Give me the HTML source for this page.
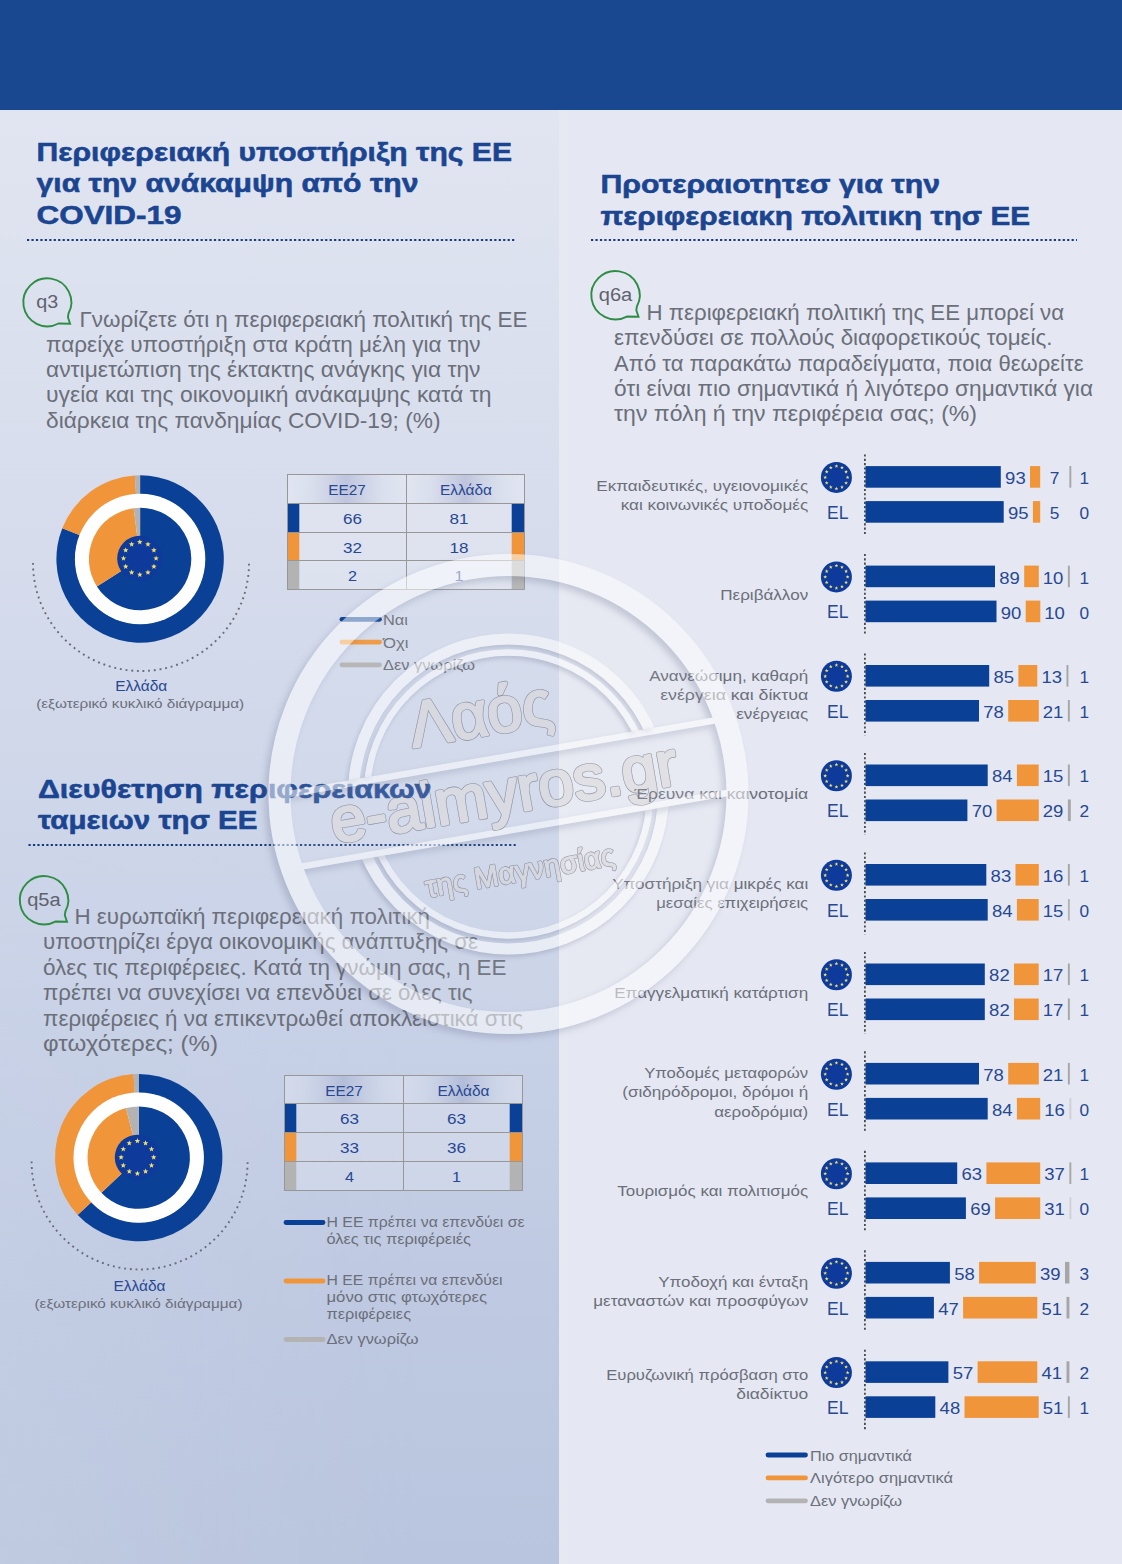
<!DOCTYPE html>
<html lang="el"><head><meta charset="utf-8"><title>EU regional policy - Greece</title>
<style>
html,body{margin:0;padding:0}
body{width:1122px;height:1564px;position:relative;overflow:hidden;background:#e5e8f2;font-family:"Liberation Sans", sans-serif}
#hdr{position:absolute;left:0;top:0;width:1122px;height:110px;background:#1a4890}
#left{position:absolute;left:0;top:110px;width:559px;height:1454px;background:linear-gradient(180deg,#e1e5f1 0%,#d6dcec 30%,#cbd4e8 55%,#bfcae2 80%,#b9c5de 100%)}
#lh{position:absolute;left:0;top:0;width:100%;height:100%;background:linear-gradient(90deg,rgba(255,255,255,0.10),rgba(255,255,255,0) 75%);-webkit-mask-image:linear-gradient(180deg,transparent 45%,#000 100%);mask-image:linear-gradient(180deg,transparent 45%,#000 100%)}
#edge{position:absolute;left:559px;top:110px;width:9px;height:1454px;background:rgba(255,255,255,0.06)}
</style></head><body>
<div id="left"><div id="lh"></div></div><div id="edge"></div><div id="hdr"></div>
<svg width="1122" height="1564" viewBox="0 0 1122 1564" style="position:absolute;left:0;top:0;pointer-events:none" font-family='"Liberation Sans", sans-serif'>
<g transform="rotate(-9.8 508.5 794)" opacity="0.62">
<text x="422.5" y="732" font-size="64" textLength="144" lengthAdjust="spacingAndGlyphs" stroke-linejoin="round" fill="#dad7d9" stroke="#dad7d9" stroke-width="2.6">Λαός</text>
<text x="328.5" y="813" font-size="63" textLength="351" lengthAdjust="spacingAndGlyphs" stroke-linejoin="round" fill="#dad7d9" stroke="#dad7d9" stroke-width="2.8">e-almyros.gr</text>
<text x="410.5" y="882" font-size="30" textLength="192" lengthAdjust="spacingAndGlyphs" stroke-linejoin="round" fill="#dad7d9" stroke="#dad7d9" stroke-width="1.2">της Μαγνησίας</text>
</g></svg>
<svg width="1122" height="1564" viewBox="0 0 1122 1564" style="position:absolute;left:0;top:0" font-family='"Liberation Sans", sans-serif'>
<text x="36.5" y="160.5" font-size="26.2" fill="#1b4591" font-weight="bold" text-anchor="start" textLength="475.5" lengthAdjust="spacingAndGlyphs" stroke="#1b4591" stroke-width="0.55">Περιφερειακή υποστήριξη της ΕΕ</text>
<text x="36.5" y="192.3" font-size="26.2" fill="#1b4591" font-weight="bold" text-anchor="start" textLength="382.0" lengthAdjust="spacingAndGlyphs" stroke="#1b4591" stroke-width="0.55">για την ανάκαμψη από την</text>
<text x="36.5" y="224.3" font-size="26.2" fill="#1b4591" font-weight="bold" text-anchor="start" textLength="145.0" lengthAdjust="spacingAndGlyphs" stroke="#1b4591" stroke-width="0.55">COVID-19</text>
<line x1="27" y1="240" x2="514.5" y2="240" stroke="#173a7a" stroke-width="2" stroke-dasharray="2.2 2.25"/>
<text x="600.5" y="193.3" font-size="26.2" fill="#1b4591" font-weight="bold" text-anchor="start" textLength="339.5" lengthAdjust="spacingAndGlyphs" stroke="#1b4591" stroke-width="0.55">Προτεραιοτητεσ για την</text>
<text x="600.5" y="224.7" font-size="26.2" fill="#1b4591" font-weight="bold" text-anchor="start" textLength="429.5" lengthAdjust="spacingAndGlyphs" stroke="#1b4591" stroke-width="0.55">περιφερειακη πολιτικη τησ ΕΕ</text>
<line x1="591" y1="240" x2="1077" y2="240" stroke="#173a7a" stroke-width="2" stroke-dasharray="2.2 2.25"/>
<text x="38.0" y="798.0" font-size="26.2" fill="#1b4591" font-weight="bold" text-anchor="start" textLength="393.5" lengthAdjust="spacingAndGlyphs" stroke="#1b4591" stroke-width="0.55">Διευθετηση περιφερειακων</text>
<text x="38.0" y="829.3" font-size="26.2" fill="#1b4591" font-weight="bold" text-anchor="start" textLength="219.5" lengthAdjust="spacingAndGlyphs" stroke="#1b4591" stroke-width="0.55">ταμειων τησ ΕΕ</text>
<line x1="28.5" y1="845" x2="517" y2="845" stroke="#173a7a" stroke-width="2" stroke-dasharray="2.2 2.25"/>
<path d="M68.49,313.57 A24,24 0 1 0 58.57,323.49 L70.10,323.70 L67.94,317.18 Z" fill="none" stroke="#2e8d45" stroke-width="1.9" stroke-linejoin="miter"/>
<text x="36.3" y="307.6" font-size="18" fill="#5f636e" font-weight="normal" text-anchor="start" textLength="22.0" lengthAdjust="spacingAndGlyphs">q3</text>
<path d="M636.87,306.56 A24.2,24.2 0 1 0 626.86,316.57 L638.50,316.80 L636.31,310.20 Z" fill="none" stroke="#2e8d45" stroke-width="1.9" stroke-linejoin="miter"/>
<text x="598.8" y="300.5" font-size="18" fill="#5f636e" font-weight="normal" text-anchor="start" textLength="33.5" lengthAdjust="spacingAndGlyphs">q6a</text>
<path d="M65.37,911.56 A24.2,24.2 0 1 0 55.36,921.57 L67.00,921.80 L64.81,915.20 Z" fill="none" stroke="#2e8d45" stroke-width="1.9" stroke-linejoin="miter"/>
<text x="27.2" y="905.5" font-size="18" fill="#5f636e" font-weight="normal" text-anchor="start" textLength="33.5" lengthAdjust="spacingAndGlyphs">q5a</text>
<text x="79.5" y="326.7" font-size="22.3" fill="#6b6f7a" font-weight="normal" text-anchor="start" textLength="448.0" lengthAdjust="spacingAndGlyphs">Γνωρίζετε ότι η περιφερειακή πολιτική της ΕΕ</text>
<text x="46.0" y="351.9" font-size="22.3" fill="#6b6f7a" font-weight="normal" text-anchor="start" textLength="434.5" lengthAdjust="spacingAndGlyphs">παρείχε υποστήριξη στα κράτη μέλη για την</text>
<text x="46.0" y="377.1" font-size="22.3" fill="#6b6f7a" font-weight="normal" text-anchor="start" textLength="434.5" lengthAdjust="spacingAndGlyphs">αντιμετώπιση της έκτακτης ανάγκης για την</text>
<text x="46.0" y="402.3" font-size="22.3" fill="#6b6f7a" font-weight="normal" text-anchor="start" textLength="445.5" lengthAdjust="spacingAndGlyphs">υγεία και της οικονομική ανάκαμψης κατά τη</text>
<text x="46.0" y="427.5" font-size="22.3" fill="#6b6f7a" font-weight="normal" text-anchor="start" textLength="394.5" lengthAdjust="spacingAndGlyphs">διάρκεια της πανδημίας COVID-19; (%)</text>
<text x="646.5" y="320.0" font-size="22.3" fill="#6b6f7a" font-weight="normal" text-anchor="start" textLength="417.5" lengthAdjust="spacingAndGlyphs">Η περιφερειακή πολιτική της ΕΕ μπορεί να</text>
<text x="614.0" y="345.3" font-size="22.3" fill="#6b6f7a" font-weight="normal" text-anchor="start" textLength="438.5" lengthAdjust="spacingAndGlyphs">επενδύσει σε πολλούς διαφορετικούς τομείς.</text>
<text x="614.0" y="370.6" font-size="22.3" fill="#6b6f7a" font-weight="normal" text-anchor="start" textLength="469.5" lengthAdjust="spacingAndGlyphs">Από τα παρακάτω παραδείγματα, ποια θεωρείτε</text>
<text x="614.0" y="395.9" font-size="22.3" fill="#6b6f7a" font-weight="normal" text-anchor="start" textLength="479.0" lengthAdjust="spacingAndGlyphs">ότι είναι πιο σημαντικά ή λιγότερο σημαντικά για</text>
<text x="614.0" y="421.2" font-size="22.3" fill="#6b6f7a" font-weight="normal" text-anchor="start" textLength="363.0" lengthAdjust="spacingAndGlyphs">την πόλη ή την περιφέρεια σας; (%)</text>
<text x="74.5" y="923.7" font-size="22.3" fill="#6b6f7a" font-weight="normal" text-anchor="start" textLength="355.5" lengthAdjust="spacingAndGlyphs">Η ευρωπαϊκή περιφερειακή πολιτική</text>
<text x="43.0" y="949.2" font-size="22.3" fill="#6b6f7a" font-weight="normal" text-anchor="start" textLength="435.0" lengthAdjust="spacingAndGlyphs">υποστηρίζει έργα οικονομικής ανάπτυξης σε</text>
<text x="43.0" y="974.7" font-size="22.3" fill="#6b6f7a" font-weight="normal" text-anchor="start" textLength="463.5" lengthAdjust="spacingAndGlyphs">όλες τις περιφέρειες. Κατά τη γνώμη σας, η ΕΕ</text>
<text x="43.0" y="1000.2" font-size="22.3" fill="#6b6f7a" font-weight="normal" text-anchor="start" textLength="429.5" lengthAdjust="spacingAndGlyphs">πρέπει να συνεχίσει να επενδύει σε όλες τις</text>
<text x="43.0" y="1025.7" font-size="22.3" fill="#6b6f7a" font-weight="normal" text-anchor="start" textLength="480.0" lengthAdjust="spacingAndGlyphs">περιφέρειες ή να επικεντρωθεί αποκλειστικά στις</text>
<text x="43.0" y="1051.2" font-size="22.3" fill="#6b6f7a" font-weight="normal" text-anchor="start" textLength="175.0" lengthAdjust="spacingAndGlyphs">φτωχότερες; (%)</text>
<path d="M140.10,475.30 A83.7,83.7 0 1 1 62.28,528.19 L79.94,535.18 A64.7,64.7 0 1 0 140.10,494.30 Z" fill="#0a4196"/>
<path d="M62.28,528.19 A83.7,83.7 0 0 1 134.84,475.47 L136.04,494.43 A64.7,64.7 0 0 0 79.94,535.18 Z" fill="#f0953a"/>
<path d="M134.84,475.47 A83.7,83.7 0 0 1 140.10,475.30 L140.10,494.30 A64.7,64.7 0 0 0 136.04,494.43 Z" fill="#b3b3b3"/>
<circle cx="140.1" cy="559" r="65.2" fill="#ffffff"/>
<path d="M140.10,559.00 L140.10,507.80 A51.2,51.2 0 1 1 96.87,586.43 Z" fill="#0a4196"/>
<path d="M140.10,559.00 L96.87,586.43 A51.2,51.2 0 0 1 133.68,508.20 Z" fill="#f0953a"/>
<path d="M140.10,559.00 L133.68,508.20 A51.2,51.2 0 0 1 140.10,507.80 Z" fill="#b3b3b3"/>
<circle cx="139.8" cy="558.4" r="22.6" fill="#0d3a9b"/>
<polygon points="139.80,539.20 140.52,541.11 142.56,541.20 140.96,542.48 141.50,544.45 139.80,543.32 138.10,544.45 138.64,542.48 137.04,541.20 139.08,541.11" fill="#f3e06a"/>
<polygon points="147.95,541.38 148.67,543.30 150.71,543.39 149.11,544.66 149.65,546.63 147.95,545.50 146.25,546.63 146.79,544.66 145.19,543.39 147.23,543.30" fill="#f3e06a"/>
<polygon points="153.92,547.35 154.63,549.26 156.67,549.35 155.07,550.63 155.62,552.60 153.92,551.47 152.21,552.60 152.76,550.63 151.16,549.35 153.20,549.26" fill="#f3e06a"/>
<polygon points="156.10,555.50 156.82,557.41 158.86,557.50 157.26,558.78 157.80,560.75 156.10,559.62 154.40,560.75 154.94,558.78 153.34,557.50 155.38,557.41" fill="#f3e06a"/>
<polygon points="153.92,563.65 154.63,565.56 156.67,565.65 155.07,566.93 155.62,568.90 153.92,567.77 152.21,568.90 152.76,566.93 151.16,565.65 153.20,565.56" fill="#f3e06a"/>
<polygon points="147.95,569.62 148.67,571.53 150.71,571.62 149.11,572.89 149.65,574.86 147.95,573.73 146.25,574.86 146.79,572.89 145.19,571.62 147.23,571.53" fill="#f3e06a"/>
<polygon points="139.80,571.80 140.52,573.71 142.56,573.80 140.96,575.08 141.50,577.05 139.80,575.92 138.10,577.05 138.64,575.08 137.04,573.80 139.08,573.71" fill="#f3e06a"/>
<polygon points="131.65,569.62 132.37,571.53 134.41,571.62 132.81,572.89 133.35,574.86 131.65,573.73 129.95,574.86 130.49,572.89 128.89,571.62 130.93,571.53" fill="#f3e06a"/>
<polygon points="125.68,563.65 126.40,565.56 128.44,565.65 126.84,566.93 127.39,568.90 125.68,567.77 123.98,568.90 124.53,566.93 122.93,565.65 124.97,565.56" fill="#f3e06a"/>
<polygon points="123.50,555.50 124.22,557.41 126.26,557.50 124.66,558.78 125.20,560.75 123.50,559.62 121.80,560.75 122.34,558.78 120.74,557.50 122.78,557.41" fill="#f3e06a"/>
<polygon points="125.68,547.35 126.40,549.26 128.44,549.35 126.84,550.63 127.39,552.60 125.68,551.47 123.98,552.60 124.53,550.63 122.93,549.35 124.97,549.26" fill="#f3e06a"/>
<polygon points="131.65,541.38 132.37,543.30 134.41,543.39 132.81,544.66 133.35,546.63 131.65,545.50 129.95,546.63 130.49,544.66 128.89,543.39 130.93,543.30" fill="#f3e06a"/>
<path d="M33.0,563.0 A108,108 0 0 0 249.0,563.0" fill="none" stroke="#6a6d78" stroke-width="1.9" stroke-dasharray="1.9 3.8"/>
<path d="M138.70,1073.90 A83.7,83.7 0 1 1 77.69,1214.90 L91.54,1201.89 A64.7,64.7 0 1 0 138.70,1092.90 Z" fill="#0a4196"/>
<path d="M77.69,1214.90 A83.7,83.7 0 0 1 133.44,1074.07 L134.64,1093.03 A64.7,64.7 0 0 0 91.54,1201.89 Z" fill="#f0953a"/>
<path d="M133.44,1074.07 A83.7,83.7 0 0 1 138.70,1073.90 L138.70,1092.90 A64.7,64.7 0 0 0 134.64,1093.03 Z" fill="#b3b3b3"/>
<circle cx="138.7" cy="1157.6" r="65.2" fill="#ffffff"/>
<path d="M138.70,1157.60 L138.70,1106.40 A51.2,51.2 0 1 1 101.38,1192.65 Z" fill="#0a4196"/>
<path d="M138.70,1157.60 L101.38,1192.65 A51.2,51.2 0 0 1 125.97,1108.01 Z" fill="#f0953a"/>
<path d="M138.70,1157.60 L125.97,1108.01 A51.2,51.2 0 0 1 138.70,1106.40 Z" fill="#b3b3b3"/>
<circle cx="137.4" cy="1157.3" r="22.6" fill="#0d3a9b"/>
<polygon points="137.40,1138.10 138.12,1140.01 140.16,1140.10 138.56,1141.38 139.10,1143.35 137.40,1142.22 135.70,1143.35 136.24,1141.38 134.64,1140.10 136.68,1140.01" fill="#f3e06a"/>
<polygon points="145.55,1140.28 146.27,1142.20 148.31,1142.29 146.71,1143.56 147.25,1145.53 145.55,1144.40 143.85,1145.53 144.39,1143.56 142.79,1142.29 144.83,1142.20" fill="#f3e06a"/>
<polygon points="151.52,1146.25 152.23,1148.16 154.27,1148.25 152.67,1149.53 153.22,1151.50 151.52,1150.37 149.81,1151.50 150.36,1149.53 148.76,1148.25 150.80,1148.16" fill="#f3e06a"/>
<polygon points="153.70,1154.40 154.42,1156.31 156.46,1156.40 154.86,1157.68 155.40,1159.65 153.70,1158.52 152.00,1159.65 152.54,1157.68 150.94,1156.40 152.98,1156.31" fill="#f3e06a"/>
<polygon points="151.52,1162.55 152.23,1164.46 154.27,1164.55 152.67,1165.83 153.22,1167.80 151.52,1166.67 149.81,1167.80 150.36,1165.83 148.76,1164.55 150.80,1164.46" fill="#f3e06a"/>
<polygon points="145.55,1168.52 146.27,1170.43 148.31,1170.52 146.71,1171.79 147.25,1173.76 145.55,1172.63 143.85,1173.76 144.39,1171.79 142.79,1170.52 144.83,1170.43" fill="#f3e06a"/>
<polygon points="137.40,1170.70 138.12,1172.61 140.16,1172.70 138.56,1173.98 139.10,1175.95 137.40,1174.82 135.70,1175.95 136.24,1173.98 134.64,1172.70 136.68,1172.61" fill="#f3e06a"/>
<polygon points="129.25,1168.52 129.97,1170.43 132.01,1170.52 130.41,1171.79 130.95,1173.76 129.25,1172.63 127.55,1173.76 128.09,1171.79 126.49,1170.52 128.53,1170.43" fill="#f3e06a"/>
<polygon points="123.28,1162.55 124.00,1164.46 126.04,1164.55 124.44,1165.83 124.99,1167.80 123.28,1166.67 121.58,1167.80 122.13,1165.83 120.53,1164.55 122.57,1164.46" fill="#f3e06a"/>
<polygon points="121.10,1154.40 121.82,1156.31 123.86,1156.40 122.26,1157.68 122.80,1159.65 121.10,1158.52 119.40,1159.65 119.94,1157.68 118.34,1156.40 120.38,1156.31" fill="#f3e06a"/>
<polygon points="123.28,1146.25 124.00,1148.16 126.04,1148.25 124.44,1149.53 124.99,1151.50 123.28,1150.37 121.58,1151.50 122.13,1149.53 120.53,1148.25 122.57,1148.16" fill="#f3e06a"/>
<polygon points="129.25,1140.28 129.97,1142.20 132.01,1142.29 130.41,1143.56 130.95,1145.53 129.25,1144.40 127.55,1145.53 128.09,1143.56 126.49,1142.29 128.53,1142.20" fill="#f3e06a"/>
<path d="M31.6,1161.5 A108,108 0 0 0 247.6,1161.5" fill="none" stroke="#6a6d78" stroke-width="1.9" stroke-dasharray="1.9 3.8"/>
<text x="115.2" y="691.4" font-size="15.5" fill="#284893" font-weight="normal" text-anchor="start" textLength="52.0" lengthAdjust="spacingAndGlyphs">Ελλάδα</text>
<text x="36.2" y="708.4" font-size="13.6" fill="#6b6f7a" font-weight="normal" text-anchor="start" textLength="208.0" lengthAdjust="spacingAndGlyphs">(εξωτερικό κυκλικό διάγραμμα)</text>
<text x="113.5" y="1290.6" font-size="15.5" fill="#284893" font-weight="normal" text-anchor="start" textLength="52.0" lengthAdjust="spacingAndGlyphs">Ελλάδα</text>
<text x="34.5" y="1307.5" font-size="13.6" fill="#6b6f7a" font-weight="normal" text-anchor="start" textLength="208.0" lengthAdjust="spacingAndGlyphs">(εξωτερικό κυκλικό διάγραμμα)</text>
<defs><linearGradient id="hg287474" x1="0" x2="1"><stop offset="0" stop-color="#ffffff" stop-opacity="0.22"/><stop offset="0.2" stop-color="#dfe3ef" stop-opacity="0.3"/><stop offset="0.5" stop-color="#9aa3c6" stop-opacity="0.42"/><stop offset="0.8" stop-color="#dfe3ef" stop-opacity="0.3"/><stop offset="1" stop-color="#ffffff" stop-opacity="0.22"/></linearGradient></defs>
<rect x="287" y="503" width="237" height="86" fill="#ffffff" fill-opacity="0.2"/>
<rect x="287" y="474" width="119" height="29" fill="url(#hg287474)"/>
<rect x="406" y="474" width="118" height="29" fill="url(#hg287474)"/>
<rect x="287" y="503" width="12.3" height="29" fill="#0a4196"/>
<rect x="511.7" y="503" width="12.3" height="29" fill="#0a4196"/>
<rect x="287" y="532" width="12.3" height="28" fill="#f0953a"/>
<rect x="511.7" y="532" width="12.3" height="28" fill="#f0953a"/>
<rect x="287" y="560" width="12.3" height="29" fill="#b3b3b3"/>
<rect x="511.7" y="560" width="12.3" height="29" fill="#b3b3b3"/>
<rect x="287" y="474" width="238" height="1" fill="#979797"/>
<rect x="287" y="503" width="238" height="1" fill="#979797"/>
<rect x="287" y="532" width="238" height="1" fill="#979797"/>
<rect x="287" y="560" width="238" height="1" fill="#979797"/>
<rect x="287" y="589" width="238" height="1" fill="#979797"/>
<rect x="287" y="474" width="1" height="116" fill="#979797"/>
<rect x="406" y="474" width="1" height="116" fill="#979797"/>
<rect x="524" y="474" width="1" height="116" fill="#979797"/>
<text x="328.2" y="494.8" font-size="15.5" fill="#284893" font-weight="normal" text-anchor="start" textLength="37.5" lengthAdjust="spacingAndGlyphs">ΕΕ27</text>
<text x="440.0" y="494.8" font-size="15.5" fill="#284893" font-weight="normal" text-anchor="start" textLength="52.0" lengthAdjust="spacingAndGlyphs">Ελλάδα</text>
<text x="343.1" y="524.2" font-size="15.3" fill="#284893" font-weight="normal" text-anchor="start" textLength="19.0" lengthAdjust="spacingAndGlyphs">66</text>
<text x="449.4" y="524.2" font-size="15.3" fill="#284893" font-weight="normal" text-anchor="start" textLength="19.0" lengthAdjust="spacingAndGlyphs">81</text>
<text x="343.1" y="553.2" font-size="15.3" fill="#284893" font-weight="normal" text-anchor="start" textLength="19.0" lengthAdjust="spacingAndGlyphs">32</text>
<text x="449.4" y="553.2" font-size="15.3" fill="#284893" font-weight="normal" text-anchor="start" textLength="19.0" lengthAdjust="spacingAndGlyphs">18</text>
<text x="348.1" y="581.2" font-size="15.3" fill="#284893" font-weight="normal" text-anchor="start" textLength="9.0" lengthAdjust="spacingAndGlyphs">2</text>
<text x="454.4" y="581.2" font-size="15.3" fill="#284893" font-weight="normal" text-anchor="start" textLength="9.0" lengthAdjust="spacingAndGlyphs">1</text>
<defs><linearGradient id="hg2841075" x1="0" x2="1"><stop offset="0" stop-color="#ffffff" stop-opacity="0.22"/><stop offset="0.2" stop-color="#dfe3ef" stop-opacity="0.3"/><stop offset="0.5" stop-color="#9aa3c6" stop-opacity="0.42"/><stop offset="0.8" stop-color="#dfe3ef" stop-opacity="0.3"/><stop offset="1" stop-color="#ffffff" stop-opacity="0.22"/></linearGradient></defs>
<rect x="284" y="1103" width="238" height="87" fill="#ffffff" fill-opacity="0.2"/>
<rect x="284" y="1075" width="119" height="28" fill="url(#hg2841075)"/>
<rect x="403" y="1075" width="119" height="28" fill="url(#hg2841075)"/>
<rect x="284" y="1103" width="12.3" height="29" fill="#0a4196"/>
<rect x="509.7" y="1103" width="12.3" height="29" fill="#0a4196"/>
<rect x="284" y="1132" width="12.3" height="29" fill="#f0953a"/>
<rect x="509.7" y="1132" width="12.3" height="29" fill="#f0953a"/>
<rect x="284" y="1161" width="12.3" height="29" fill="#b3b3b3"/>
<rect x="509.7" y="1161" width="12.3" height="29" fill="#b3b3b3"/>
<rect x="284" y="1075" width="239" height="1" fill="#979797"/>
<rect x="284" y="1103" width="239" height="1" fill="#979797"/>
<rect x="284" y="1132" width="239" height="1" fill="#979797"/>
<rect x="284" y="1161" width="239" height="1" fill="#979797"/>
<rect x="284" y="1190" width="239" height="1" fill="#979797"/>
<rect x="284" y="1075" width="1" height="116" fill="#979797"/>
<rect x="403" y="1075" width="1" height="116" fill="#979797"/>
<rect x="522" y="1075" width="1" height="116" fill="#979797"/>
<text x="325.2" y="1095.8" font-size="15.5" fill="#284893" font-weight="normal" text-anchor="start" textLength="37.5" lengthAdjust="spacingAndGlyphs">ΕΕ27</text>
<text x="437.5" y="1095.8" font-size="15.5" fill="#284893" font-weight="normal" text-anchor="start" textLength="52.0" lengthAdjust="spacingAndGlyphs">Ελλάδα</text>
<text x="340.1" y="1124.2" font-size="15.3" fill="#284893" font-weight="normal" text-anchor="start" textLength="19.0" lengthAdjust="spacingAndGlyphs">63</text>
<text x="446.9" y="1124.2" font-size="15.3" fill="#284893" font-weight="normal" text-anchor="start" textLength="19.0" lengthAdjust="spacingAndGlyphs">63</text>
<text x="340.1" y="1153.2" font-size="15.3" fill="#284893" font-weight="normal" text-anchor="start" textLength="19.0" lengthAdjust="spacingAndGlyphs">33</text>
<text x="446.9" y="1153.2" font-size="15.3" fill="#284893" font-weight="normal" text-anchor="start" textLength="19.0" lengthAdjust="spacingAndGlyphs">36</text>
<text x="345.1" y="1182.2" font-size="15.3" fill="#284893" font-weight="normal" text-anchor="start" textLength="9.0" lengthAdjust="spacingAndGlyphs">4</text>
<text x="451.9" y="1182.2" font-size="15.3" fill="#284893" font-weight="normal" text-anchor="start" textLength="9.0" lengthAdjust="spacingAndGlyphs">1</text>
<line x1="342" y1="619.3" x2="379.5" y2="619.3" stroke="#0a4196" stroke-width="4.8" stroke-linecap="round"/>
<text x="383.0" y="624.7" font-size="15.5" fill="#6b6f7a" font-weight="normal" text-anchor="start" textLength="25.0" lengthAdjust="spacingAndGlyphs">Ναι</text>
<line x1="342" y1="642.0999999999999" x2="379.5" y2="642.0999999999999" stroke="#f0953a" stroke-width="4.8" stroke-linecap="round"/>
<text x="383.0" y="647.5" font-size="15.5" fill="#6b6f7a" font-weight="normal" text-anchor="start" textLength="25.5" lengthAdjust="spacingAndGlyphs">Όχι</text>
<line x1="342" y1="664.9" x2="379.5" y2="664.9" stroke="#b3b3b3" stroke-width="4.8" stroke-linecap="round"/>
<text x="383.0" y="670.3" font-size="15.5" fill="#6b6f7a" font-weight="normal" text-anchor="start" textLength="92.0" lengthAdjust="spacingAndGlyphs">Δεν γνωρίζω</text>
<line x1="286" y1="1222.5" x2="323" y2="1222.5" stroke="#0a4196" stroke-width="4.8" stroke-linecap="round"/>
<text x="326.5" y="1226.5" font-size="15.5" fill="#6b6f7a" font-weight="normal" text-anchor="start" textLength="198.0" lengthAdjust="spacingAndGlyphs">Η ΕΕ πρέπει να επενδύει σε</text>
<text x="326.5" y="1243.5" font-size="15.5" fill="#6b6f7a" font-weight="normal" text-anchor="start" textLength="144.5" lengthAdjust="spacingAndGlyphs">όλες τις περιφέρειές</text>
<line x1="286" y1="1281" x2="323" y2="1281" stroke="#f0953a" stroke-width="4.8" stroke-linecap="round"/>
<text x="326.5" y="1285.0" font-size="15.5" fill="#6b6f7a" font-weight="normal" text-anchor="start" textLength="176.0" lengthAdjust="spacingAndGlyphs">Η ΕΕ πρέπει να επενδύει</text>
<text x="326.5" y="1301.8" font-size="15.5" fill="#6b6f7a" font-weight="normal" text-anchor="start" textLength="160.5" lengthAdjust="spacingAndGlyphs">μόνο στις φτωχότερες</text>
<text x="326.5" y="1318.6" font-size="15.5" fill="#6b6f7a" font-weight="normal" text-anchor="start" textLength="84.5" lengthAdjust="spacingAndGlyphs">περιφέρειες</text>
<line x1="286" y1="1339.5" x2="323" y2="1339.5" stroke="#b3b3b3" stroke-width="4.8" stroke-linecap="round"/>
<text x="326.5" y="1343.7" font-size="15.5" fill="#6b6f7a" font-weight="normal" text-anchor="start" textLength="92.0" lengthAdjust="spacingAndGlyphs">Δεν γνωρίζω</text>
<line x1="864.9" y1="454.5" x2="864.9" y2="536.3" stroke="#4a4a4a" stroke-width="1.8" stroke-dasharray="2.1 2.2"/>
<circle cx="836.4" cy="477.4" r="15.5" fill="#0d3a9b"/>
<polygon points="836.40,464.20 836.89,465.52 838.30,465.58 837.20,466.46 837.58,467.82 836.40,467.04 835.22,467.82 835.60,466.46 834.50,465.58 835.91,465.52" fill="#f3e06a"/>
<polygon points="842.00,465.70 842.49,467.02 843.90,467.08 842.80,467.96 843.18,469.32 842.00,468.54 840.82,469.32 841.20,467.96 840.10,467.08 841.51,467.02" fill="#f3e06a"/>
<polygon points="846.10,469.80 846.59,471.12 848.00,471.18 846.90,472.06 847.28,473.42 846.10,472.64 844.92,473.42 845.30,472.06 844.20,471.18 845.61,471.12" fill="#f3e06a"/>
<polygon points="847.60,475.40 848.09,476.72 849.50,476.78 848.40,477.66 848.78,479.02 847.60,478.24 846.42,479.02 846.80,477.66 845.70,476.78 847.11,476.72" fill="#f3e06a"/>
<polygon points="846.10,481.00 846.59,482.32 848.00,482.38 846.90,483.26 847.28,484.62 846.10,483.84 844.92,484.62 845.30,483.26 844.20,482.38 845.61,482.32" fill="#f3e06a"/>
<polygon points="842.00,485.10 842.49,486.42 843.90,486.48 842.80,487.36 843.18,488.72 842.00,487.94 840.82,488.72 841.20,487.36 840.10,486.48 841.51,486.42" fill="#f3e06a"/>
<polygon points="836.40,486.60 836.89,487.92 838.30,487.98 837.20,488.86 837.58,490.22 836.40,489.44 835.22,490.22 835.60,488.86 834.50,487.98 835.91,487.92" fill="#f3e06a"/>
<polygon points="830.80,485.10 831.29,486.42 832.70,486.48 831.60,487.36 831.98,488.72 830.80,487.94 829.62,488.72 830.00,487.36 828.90,486.48 830.31,486.42" fill="#f3e06a"/>
<polygon points="826.70,481.00 827.19,482.32 828.60,482.38 827.50,483.26 827.88,484.62 826.70,483.84 825.52,484.62 825.90,483.26 824.80,482.38 826.21,482.32" fill="#f3e06a"/>
<polygon points="825.20,475.40 825.69,476.72 827.10,476.78 826.00,477.66 826.38,479.02 825.20,478.24 824.02,479.02 824.40,477.66 823.30,476.78 824.71,476.72" fill="#f3e06a"/>
<polygon points="826.70,469.80 827.19,471.12 828.60,471.18 827.50,472.06 827.88,473.42 826.70,472.64 825.52,473.42 825.90,472.06 824.80,471.18 826.21,471.12" fill="#f3e06a"/>
<polygon points="830.80,465.70 831.29,467.02 832.70,467.08 831.60,467.96 831.98,469.32 830.80,468.54 829.62,469.32 830.00,467.96 828.90,467.08 830.31,467.02" fill="#f3e06a"/>
<text x="827.0" y="518.7" font-size="19.2" fill="#284893" font-weight="normal" text-anchor="start" textLength="21.5" lengthAdjust="spacingAndGlyphs">EL</text>
<rect x="865.5" y="466.1" width="135.3" height="21.6" fill="#0a4196"/>
<rect x="1030.0" y="466.1" width="10.2" height="21.6" fill="#f0953a"/>
<rect x="1069.4" y="466.1" width="1.9" height="21.6" fill="#a6a6a6" fill-opacity="1"/>
<text x="1005.1" y="484.0" font-size="16.6" fill="#284893" font-weight="normal" text-anchor="start" textLength="20.6" lengthAdjust="spacingAndGlyphs">93</text>
<text x="1049.8" y="484.0" font-size="16.6" fill="#284893" font-weight="normal" text-anchor="start" textLength="9.6" lengthAdjust="spacingAndGlyphs">7</text>
<text x="1079.4" y="484.0" font-size="16.6" fill="#284893" font-weight="normal" text-anchor="start" textLength="9.6" lengthAdjust="spacingAndGlyphs">1</text>
<rect x="865.5" y="501.1" width="138.2" height="21.6" fill="#0a4196"/>
<rect x="1032.9" y="501.1" width="7.3" height="21.6" fill="#f0953a"/>
<text x="1008.0" y="519.0" font-size="16.6" fill="#284893" font-weight="normal" text-anchor="start" textLength="20.6" lengthAdjust="spacingAndGlyphs">95</text>
<text x="1049.8" y="519.0" font-size="16.6" fill="#284893" font-weight="normal" text-anchor="start" textLength="9.6" lengthAdjust="spacingAndGlyphs">5</text>
<text x="1079.4" y="519.0" font-size="16.6" fill="#284893" font-weight="normal" text-anchor="start" textLength="9.6" lengthAdjust="spacingAndGlyphs">0</text>
<text x="596.2" y="491.1" font-size="15.5" fill="#6b6f7a" font-weight="normal" text-anchor="start" textLength="212.0" lengthAdjust="spacingAndGlyphs">Εκπαιδευτικές, υγειονομικές</text>
<text x="620.7" y="510.4" font-size="15.5" fill="#6b6f7a" font-weight="normal" text-anchor="start" textLength="187.5" lengthAdjust="spacingAndGlyphs">και κοινωνικές υποδομές</text>
<line x1="864.9" y1="554.0" x2="864.9" y2="635.8" stroke="#4a4a4a" stroke-width="1.8" stroke-dasharray="2.1 2.2"/>
<circle cx="836.4" cy="576.9" r="15.5" fill="#0d3a9b"/>
<polygon points="836.40,563.70 836.89,565.02 838.30,565.08 837.20,565.96 837.58,567.32 836.40,566.54 835.22,567.32 835.60,565.96 834.50,565.08 835.91,565.02" fill="#f3e06a"/>
<polygon points="842.00,565.20 842.49,566.52 843.90,566.58 842.80,567.46 843.18,568.82 842.00,568.04 840.82,568.82 841.20,567.46 840.10,566.58 841.51,566.52" fill="#f3e06a"/>
<polygon points="846.10,569.30 846.59,570.62 848.00,570.68 846.90,571.56 847.28,572.92 846.10,572.14 844.92,572.92 845.30,571.56 844.20,570.68 845.61,570.62" fill="#f3e06a"/>
<polygon points="847.60,574.90 848.09,576.22 849.50,576.28 848.40,577.16 848.78,578.52 847.60,577.74 846.42,578.52 846.80,577.16 845.70,576.28 847.11,576.22" fill="#f3e06a"/>
<polygon points="846.10,580.50 846.59,581.82 848.00,581.88 846.90,582.76 847.28,584.12 846.10,583.34 844.92,584.12 845.30,582.76 844.20,581.88 845.61,581.82" fill="#f3e06a"/>
<polygon points="842.00,584.60 842.49,585.92 843.90,585.98 842.80,586.86 843.18,588.22 842.00,587.44 840.82,588.22 841.20,586.86 840.10,585.98 841.51,585.92" fill="#f3e06a"/>
<polygon points="836.40,586.10 836.89,587.42 838.30,587.48 837.20,588.36 837.58,589.72 836.40,588.94 835.22,589.72 835.60,588.36 834.50,587.48 835.91,587.42" fill="#f3e06a"/>
<polygon points="830.80,584.60 831.29,585.92 832.70,585.98 831.60,586.86 831.98,588.22 830.80,587.44 829.62,588.22 830.00,586.86 828.90,585.98 830.31,585.92" fill="#f3e06a"/>
<polygon points="826.70,580.50 827.19,581.82 828.60,581.88 827.50,582.76 827.88,584.12 826.70,583.34 825.52,584.12 825.90,582.76 824.80,581.88 826.21,581.82" fill="#f3e06a"/>
<polygon points="825.20,574.90 825.69,576.22 827.10,576.28 826.00,577.16 826.38,578.52 825.20,577.74 824.02,578.52 824.40,577.16 823.30,576.28 824.71,576.22" fill="#f3e06a"/>
<polygon points="826.70,569.30 827.19,570.62 828.60,570.68 827.50,571.56 827.88,572.92 826.70,572.14 825.52,572.92 825.90,571.56 824.80,570.68 826.21,570.62" fill="#f3e06a"/>
<polygon points="830.80,565.20 831.29,566.52 832.70,566.58 831.60,567.46 831.98,568.82 830.80,568.04 829.62,568.82 830.00,567.46 828.90,566.58 830.31,566.52" fill="#f3e06a"/>
<text x="827.0" y="618.2" font-size="19.2" fill="#284893" font-weight="normal" text-anchor="start" textLength="21.5" lengthAdjust="spacingAndGlyphs">EL</text>
<rect x="865.5" y="565.6" width="129.5" height="21.6" fill="#0a4196"/>
<rect x="1024.2" y="565.6" width="14.6" height="21.6" fill="#f0953a"/>
<rect x="1067.9" y="565.6" width="1.9" height="21.6" fill="#a6a6a6" fill-opacity="1"/>
<text x="999.3" y="583.5" font-size="16.6" fill="#284893" font-weight="normal" text-anchor="start" textLength="20.6" lengthAdjust="spacingAndGlyphs">89</text>
<text x="1042.8" y="583.5" font-size="16.6" fill="#284893" font-weight="normal" text-anchor="start" textLength="20.6" lengthAdjust="spacingAndGlyphs">10</text>
<text x="1079.4" y="583.5" font-size="16.6" fill="#284893" font-weight="normal" text-anchor="start" textLength="9.6" lengthAdjust="spacingAndGlyphs">1</text>
<rect x="865.5" y="600.6" width="131.0" height="21.6" fill="#0a4196"/>
<rect x="1025.7" y="600.6" width="14.6" height="21.6" fill="#f0953a"/>
<text x="1000.8" y="618.5" font-size="16.6" fill="#284893" font-weight="normal" text-anchor="start" textLength="20.6" lengthAdjust="spacingAndGlyphs">90</text>
<text x="1044.3" y="618.5" font-size="16.6" fill="#284893" font-weight="normal" text-anchor="start" textLength="20.6" lengthAdjust="spacingAndGlyphs">10</text>
<text x="1079.4" y="618.5" font-size="16.6" fill="#284893" font-weight="normal" text-anchor="start" textLength="9.6" lengthAdjust="spacingAndGlyphs">0</text>
<text x="720.2" y="599.6" font-size="15.5" fill="#6b6f7a" font-weight="normal" text-anchor="start" textLength="88.0" lengthAdjust="spacingAndGlyphs">Περιβάλλον</text>
<line x1="864.9" y1="653.4" x2="864.9" y2="735.2" stroke="#4a4a4a" stroke-width="1.8" stroke-dasharray="2.1 2.2"/>
<circle cx="836.4" cy="676.3" r="15.5" fill="#0d3a9b"/>
<polygon points="836.40,663.10 836.89,664.42 838.30,664.48 837.20,665.36 837.58,666.72 836.40,665.94 835.22,666.72 835.60,665.36 834.50,664.48 835.91,664.42" fill="#f3e06a"/>
<polygon points="842.00,664.60 842.49,665.92 843.90,665.98 842.80,666.86 843.18,668.22 842.00,667.44 840.82,668.22 841.20,666.86 840.10,665.98 841.51,665.92" fill="#f3e06a"/>
<polygon points="846.10,668.70 846.59,670.02 848.00,670.08 846.90,670.96 847.28,672.32 846.10,671.54 844.92,672.32 845.30,670.96 844.20,670.08 845.61,670.02" fill="#f3e06a"/>
<polygon points="847.60,674.30 848.09,675.62 849.50,675.68 848.40,676.56 848.78,677.92 847.60,677.14 846.42,677.92 846.80,676.56 845.70,675.68 847.11,675.62" fill="#f3e06a"/>
<polygon points="846.10,679.90 846.59,681.22 848.00,681.28 846.90,682.16 847.28,683.52 846.10,682.74 844.92,683.52 845.30,682.16 844.20,681.28 845.61,681.22" fill="#f3e06a"/>
<polygon points="842.00,684.00 842.49,685.32 843.90,685.38 842.80,686.26 843.18,687.62 842.00,686.84 840.82,687.62 841.20,686.26 840.10,685.38 841.51,685.32" fill="#f3e06a"/>
<polygon points="836.40,685.50 836.89,686.82 838.30,686.88 837.20,687.76 837.58,689.12 836.40,688.34 835.22,689.12 835.60,687.76 834.50,686.88 835.91,686.82" fill="#f3e06a"/>
<polygon points="830.80,684.00 831.29,685.32 832.70,685.38 831.60,686.26 831.98,687.62 830.80,686.84 829.62,687.62 830.00,686.26 828.90,685.38 830.31,685.32" fill="#f3e06a"/>
<polygon points="826.70,679.90 827.19,681.22 828.60,681.28 827.50,682.16 827.88,683.52 826.70,682.74 825.52,683.52 825.90,682.16 824.80,681.28 826.21,681.22" fill="#f3e06a"/>
<polygon points="825.20,674.30 825.69,675.62 827.10,675.68 826.00,676.56 826.38,677.92 825.20,677.14 824.02,677.92 824.40,676.56 823.30,675.68 824.71,675.62" fill="#f3e06a"/>
<polygon points="826.70,668.70 827.19,670.02 828.60,670.08 827.50,670.96 827.88,672.32 826.70,671.54 825.52,672.32 825.90,670.96 824.80,670.08 826.21,670.02" fill="#f3e06a"/>
<polygon points="830.80,664.60 831.29,665.92 832.70,665.98 831.60,666.86 831.98,668.22 830.80,667.44 829.62,668.22 830.00,666.86 828.90,665.98 830.31,665.92" fill="#f3e06a"/>
<text x="827.0" y="717.6" font-size="19.2" fill="#284893" font-weight="normal" text-anchor="start" textLength="21.5" lengthAdjust="spacingAndGlyphs">EL</text>
<rect x="865.5" y="665.0" width="123.7" height="21.6" fill="#0a4196"/>
<rect x="1018.4" y="665.0" width="18.9" height="21.6" fill="#f0953a"/>
<rect x="1066.5" y="665.0" width="1.9" height="21.6" fill="#a6a6a6" fill-opacity="1"/>
<text x="993.5" y="682.9" font-size="16.6" fill="#284893" font-weight="normal" text-anchor="start" textLength="20.6" lengthAdjust="spacingAndGlyphs">85</text>
<text x="1041.4" y="682.9" font-size="16.6" fill="#284893" font-weight="normal" text-anchor="start" textLength="20.6" lengthAdjust="spacingAndGlyphs">13</text>
<text x="1079.4" y="682.9" font-size="16.6" fill="#284893" font-weight="normal" text-anchor="start" textLength="9.6" lengthAdjust="spacingAndGlyphs">1</text>
<rect x="865.5" y="700.0" width="113.5" height="21.6" fill="#0a4196"/>
<rect x="1008.2" y="700.0" width="30.6" height="21.6" fill="#f0953a"/>
<rect x="1067.9" y="700.0" width="1.9" height="21.6" fill="#a6a6a6" fill-opacity="1"/>
<text x="983.3" y="717.9" font-size="16.6" fill="#284893" font-weight="normal" text-anchor="start" textLength="20.6" lengthAdjust="spacingAndGlyphs">78</text>
<text x="1042.8" y="717.9" font-size="16.6" fill="#284893" font-weight="normal" text-anchor="start" textLength="20.6" lengthAdjust="spacingAndGlyphs">21</text>
<text x="1079.4" y="717.9" font-size="16.6" fill="#284893" font-weight="normal" text-anchor="start" textLength="9.6" lengthAdjust="spacingAndGlyphs">1</text>
<text x="649.2" y="680.5" font-size="15.5" fill="#6b6f7a" font-weight="normal" text-anchor="start" textLength="159.0" lengthAdjust="spacingAndGlyphs">Ανανεώσιμη, καθαρή</text>
<text x="660.2" y="699.8" font-size="15.5" fill="#6b6f7a" font-weight="normal" text-anchor="start" textLength="148.0" lengthAdjust="spacingAndGlyphs">ενέργεια και δίκτυα</text>
<text x="736.2" y="719.1" font-size="15.5" fill="#6b6f7a" font-weight="normal" text-anchor="start" textLength="72.0" lengthAdjust="spacingAndGlyphs">ενέργειας</text>
<line x1="864.9" y1="752.9" x2="864.9" y2="834.7" stroke="#4a4a4a" stroke-width="1.8" stroke-dasharray="2.1 2.2"/>
<circle cx="836.4" cy="775.8" r="15.5" fill="#0d3a9b"/>
<polygon points="836.40,762.60 836.89,763.92 838.30,763.98 837.20,764.86 837.58,766.22 836.40,765.44 835.22,766.22 835.60,764.86 834.50,763.98 835.91,763.92" fill="#f3e06a"/>
<polygon points="842.00,764.10 842.49,765.42 843.90,765.48 842.80,766.36 843.18,767.72 842.00,766.94 840.82,767.72 841.20,766.36 840.10,765.48 841.51,765.42" fill="#f3e06a"/>
<polygon points="846.10,768.20 846.59,769.52 848.00,769.58 846.90,770.46 847.28,771.82 846.10,771.04 844.92,771.82 845.30,770.46 844.20,769.58 845.61,769.52" fill="#f3e06a"/>
<polygon points="847.60,773.80 848.09,775.12 849.50,775.18 848.40,776.06 848.78,777.42 847.60,776.64 846.42,777.42 846.80,776.06 845.70,775.18 847.11,775.12" fill="#f3e06a"/>
<polygon points="846.10,779.40 846.59,780.72 848.00,780.78 846.90,781.66 847.28,783.02 846.10,782.24 844.92,783.02 845.30,781.66 844.20,780.78 845.61,780.72" fill="#f3e06a"/>
<polygon points="842.00,783.50 842.49,784.82 843.90,784.88 842.80,785.76 843.18,787.12 842.00,786.34 840.82,787.12 841.20,785.76 840.10,784.88 841.51,784.82" fill="#f3e06a"/>
<polygon points="836.40,785.00 836.89,786.32 838.30,786.38 837.20,787.26 837.58,788.62 836.40,787.84 835.22,788.62 835.60,787.26 834.50,786.38 835.91,786.32" fill="#f3e06a"/>
<polygon points="830.80,783.50 831.29,784.82 832.70,784.88 831.60,785.76 831.98,787.12 830.80,786.34 829.62,787.12 830.00,785.76 828.90,784.88 830.31,784.82" fill="#f3e06a"/>
<polygon points="826.70,779.40 827.19,780.72 828.60,780.78 827.50,781.66 827.88,783.02 826.70,782.24 825.52,783.02 825.90,781.66 824.80,780.78 826.21,780.72" fill="#f3e06a"/>
<polygon points="825.20,773.80 825.69,775.12 827.10,775.18 826.00,776.06 826.38,777.42 825.20,776.64 824.02,777.42 824.40,776.06 823.30,775.18 824.71,775.12" fill="#f3e06a"/>
<polygon points="826.70,768.20 827.19,769.52 828.60,769.58 827.50,770.46 827.88,771.82 826.70,771.04 825.52,771.82 825.90,770.46 824.80,769.58 826.21,769.52" fill="#f3e06a"/>
<polygon points="830.80,764.10 831.29,765.42 832.70,765.48 831.60,766.36 831.98,767.72 830.80,766.94 829.62,767.72 830.00,766.36 828.90,765.48 830.31,765.42" fill="#f3e06a"/>
<text x="827.0" y="817.1" font-size="19.2" fill="#284893" font-weight="normal" text-anchor="start" textLength="21.5" lengthAdjust="spacingAndGlyphs">EL</text>
<rect x="865.5" y="764.5" width="122.2" height="21.6" fill="#0a4196"/>
<rect x="1016.9" y="764.5" width="21.8" height="21.6" fill="#f0953a"/>
<rect x="1067.9" y="764.5" width="1.9" height="21.6" fill="#a6a6a6" fill-opacity="1"/>
<text x="992.0" y="782.4" font-size="16.6" fill="#284893" font-weight="normal" text-anchor="start" textLength="20.6" lengthAdjust="spacingAndGlyphs">84</text>
<text x="1042.8" y="782.4" font-size="16.6" fill="#284893" font-weight="normal" text-anchor="start" textLength="20.6" lengthAdjust="spacingAndGlyphs">15</text>
<text x="1079.4" y="782.4" font-size="16.6" fill="#284893" font-weight="normal" text-anchor="start" textLength="9.6" lengthAdjust="spacingAndGlyphs">1</text>
<rect x="865.5" y="799.5" width="101.9" height="21.6" fill="#0a4196"/>
<rect x="996.6" y="799.5" width="42.2" height="21.6" fill="#f0953a"/>
<rect x="1067.9" y="799.5" width="2.9" height="21.6" fill="#a6a6a6" fill-opacity="1"/>
<text x="971.7" y="817.4" font-size="16.6" fill="#284893" font-weight="normal" text-anchor="start" textLength="20.6" lengthAdjust="spacingAndGlyphs">70</text>
<text x="1042.8" y="817.4" font-size="16.6" fill="#284893" font-weight="normal" text-anchor="start" textLength="20.6" lengthAdjust="spacingAndGlyphs">29</text>
<text x="1079.4" y="817.4" font-size="16.6" fill="#284893" font-weight="normal" text-anchor="start" textLength="9.6" lengthAdjust="spacingAndGlyphs">2</text>
<text x="634.2" y="798.6" font-size="15.5" fill="#6b6f7a" font-weight="normal" text-anchor="start" textLength="174.0" lengthAdjust="spacingAndGlyphs">Έρευνα και καινοτομία</text>
<line x1="864.9" y1="852.4" x2="864.9" y2="934.2" stroke="#4a4a4a" stroke-width="1.8" stroke-dasharray="2.1 2.2"/>
<circle cx="836.4" cy="875.3" r="15.5" fill="#0d3a9b"/>
<polygon points="836.40,862.10 836.89,863.42 838.30,863.48 837.20,864.36 837.58,865.72 836.40,864.94 835.22,865.72 835.60,864.36 834.50,863.48 835.91,863.42" fill="#f3e06a"/>
<polygon points="842.00,863.60 842.49,864.92 843.90,864.98 842.80,865.86 843.18,867.22 842.00,866.44 840.82,867.22 841.20,865.86 840.10,864.98 841.51,864.92" fill="#f3e06a"/>
<polygon points="846.10,867.70 846.59,869.02 848.00,869.08 846.90,869.96 847.28,871.32 846.10,870.54 844.92,871.32 845.30,869.96 844.20,869.08 845.61,869.02" fill="#f3e06a"/>
<polygon points="847.60,873.30 848.09,874.62 849.50,874.68 848.40,875.56 848.78,876.92 847.60,876.14 846.42,876.92 846.80,875.56 845.70,874.68 847.11,874.62" fill="#f3e06a"/>
<polygon points="846.10,878.90 846.59,880.22 848.00,880.28 846.90,881.16 847.28,882.52 846.10,881.74 844.92,882.52 845.30,881.16 844.20,880.28 845.61,880.22" fill="#f3e06a"/>
<polygon points="842.00,883.00 842.49,884.32 843.90,884.38 842.80,885.26 843.18,886.62 842.00,885.84 840.82,886.62 841.20,885.26 840.10,884.38 841.51,884.32" fill="#f3e06a"/>
<polygon points="836.40,884.50 836.89,885.82 838.30,885.88 837.20,886.76 837.58,888.12 836.40,887.34 835.22,888.12 835.60,886.76 834.50,885.88 835.91,885.82" fill="#f3e06a"/>
<polygon points="830.80,883.00 831.29,884.32 832.70,884.38 831.60,885.26 831.98,886.62 830.80,885.84 829.62,886.62 830.00,885.26 828.90,884.38 830.31,884.32" fill="#f3e06a"/>
<polygon points="826.70,878.90 827.19,880.22 828.60,880.28 827.50,881.16 827.88,882.52 826.70,881.74 825.52,882.52 825.90,881.16 824.80,880.28 826.21,880.22" fill="#f3e06a"/>
<polygon points="825.20,873.30 825.69,874.62 827.10,874.68 826.00,875.56 826.38,876.92 825.20,876.14 824.02,876.92 824.40,875.56 823.30,874.68 824.71,874.62" fill="#f3e06a"/>
<polygon points="826.70,867.70 827.19,869.02 828.60,869.08 827.50,869.96 827.88,871.32 826.70,870.54 825.52,871.32 825.90,869.96 824.80,869.08 826.21,869.02" fill="#f3e06a"/>
<polygon points="830.80,863.60 831.29,864.92 832.70,864.98 831.60,865.86 831.98,867.22 830.80,866.44 829.62,867.22 830.00,865.86 828.90,864.98 830.31,864.92" fill="#f3e06a"/>
<text x="827.0" y="916.6" font-size="19.2" fill="#284893" font-weight="normal" text-anchor="start" textLength="21.5" lengthAdjust="spacingAndGlyphs">EL</text>
<rect x="865.5" y="864.0" width="120.8" height="21.6" fill="#0a4196"/>
<rect x="1015.5" y="864.0" width="23.3" height="21.6" fill="#f0953a"/>
<rect x="1067.9" y="864.0" width="1.9" height="21.6" fill="#a6a6a6" fill-opacity="1"/>
<text x="990.6" y="881.9" font-size="16.6" fill="#284893" font-weight="normal" text-anchor="start" textLength="20.6" lengthAdjust="spacingAndGlyphs">83</text>
<text x="1042.8" y="881.9" font-size="16.6" fill="#284893" font-weight="normal" text-anchor="start" textLength="20.6" lengthAdjust="spacingAndGlyphs">16</text>
<text x="1079.4" y="881.9" font-size="16.6" fill="#284893" font-weight="normal" text-anchor="start" textLength="9.6" lengthAdjust="spacingAndGlyphs">1</text>
<rect x="865.5" y="899.0" width="122.2" height="21.6" fill="#0a4196"/>
<rect x="1016.9" y="899.0" width="21.8" height="21.6" fill="#f0953a"/>
<rect x="1067.9" y="899.0" width="1.9" height="21.6" fill="#a6a6a6" fill-opacity="0.8"/>
<text x="992.0" y="916.9" font-size="16.6" fill="#284893" font-weight="normal" text-anchor="start" textLength="20.6" lengthAdjust="spacingAndGlyphs">84</text>
<text x="1042.8" y="916.9" font-size="16.6" fill="#284893" font-weight="normal" text-anchor="start" textLength="20.6" lengthAdjust="spacingAndGlyphs">15</text>
<text x="1079.4" y="916.9" font-size="16.6" fill="#284893" font-weight="normal" text-anchor="start" textLength="9.6" lengthAdjust="spacingAndGlyphs">0</text>
<text x="612.2" y="888.5" font-size="15.5" fill="#6b6f7a" font-weight="normal" text-anchor="start" textLength="196.0" lengthAdjust="spacingAndGlyphs">Υποστήριξη για μικρές και</text>
<text x="656.2" y="907.8" font-size="15.5" fill="#6b6f7a" font-weight="normal" text-anchor="start" textLength="152.0" lengthAdjust="spacingAndGlyphs">μεσαίες επιχειρήσεις</text>
<line x1="864.9" y1="951.9" x2="864.9" y2="1033.7" stroke="#4a4a4a" stroke-width="1.8" stroke-dasharray="2.1 2.2"/>
<circle cx="836.4" cy="974.8" r="15.5" fill="#0d3a9b"/>
<polygon points="836.40,961.60 836.89,962.92 838.30,962.98 837.20,963.86 837.58,965.22 836.40,964.44 835.22,965.22 835.60,963.86 834.50,962.98 835.91,962.92" fill="#f3e06a"/>
<polygon points="842.00,963.10 842.49,964.42 843.90,964.48 842.80,965.36 843.18,966.72 842.00,965.94 840.82,966.72 841.20,965.36 840.10,964.48 841.51,964.42" fill="#f3e06a"/>
<polygon points="846.10,967.20 846.59,968.52 848.00,968.58 846.90,969.46 847.28,970.82 846.10,970.04 844.92,970.82 845.30,969.46 844.20,968.58 845.61,968.52" fill="#f3e06a"/>
<polygon points="847.60,972.80 848.09,974.12 849.50,974.18 848.40,975.06 848.78,976.42 847.60,975.64 846.42,976.42 846.80,975.06 845.70,974.18 847.11,974.12" fill="#f3e06a"/>
<polygon points="846.10,978.40 846.59,979.72 848.00,979.78 846.90,980.66 847.28,982.02 846.10,981.24 844.92,982.02 845.30,980.66 844.20,979.78 845.61,979.72" fill="#f3e06a"/>
<polygon points="842.00,982.50 842.49,983.82 843.90,983.88 842.80,984.76 843.18,986.12 842.00,985.34 840.82,986.12 841.20,984.76 840.10,983.88 841.51,983.82" fill="#f3e06a"/>
<polygon points="836.40,984.00 836.89,985.32 838.30,985.38 837.20,986.26 837.58,987.62 836.40,986.84 835.22,987.62 835.60,986.26 834.50,985.38 835.91,985.32" fill="#f3e06a"/>
<polygon points="830.80,982.50 831.29,983.82 832.70,983.88 831.60,984.76 831.98,986.12 830.80,985.34 829.62,986.12 830.00,984.76 828.90,983.88 830.31,983.82" fill="#f3e06a"/>
<polygon points="826.70,978.40 827.19,979.72 828.60,979.78 827.50,980.66 827.88,982.02 826.70,981.24 825.52,982.02 825.90,980.66 824.80,979.78 826.21,979.72" fill="#f3e06a"/>
<polygon points="825.20,972.80 825.69,974.12 827.10,974.18 826.00,975.06 826.38,976.42 825.20,975.64 824.02,976.42 824.40,975.06 823.30,974.18 824.71,974.12" fill="#f3e06a"/>
<polygon points="826.70,967.20 827.19,968.52 828.60,968.58 827.50,969.46 827.88,970.82 826.70,970.04 825.52,970.82 825.90,969.46 824.80,968.58 826.21,968.52" fill="#f3e06a"/>
<polygon points="830.80,963.10 831.29,964.42 832.70,964.48 831.60,965.36 831.98,966.72 830.80,965.94 829.62,966.72 830.00,965.36 828.90,964.48 830.31,964.42" fill="#f3e06a"/>
<text x="827.0" y="1016.1" font-size="19.2" fill="#284893" font-weight="normal" text-anchor="start" textLength="21.5" lengthAdjust="spacingAndGlyphs">EL</text>
<rect x="865.5" y="963.5" width="119.3" height="21.6" fill="#0a4196"/>
<rect x="1014.0" y="963.5" width="24.7" height="21.6" fill="#f0953a"/>
<rect x="1067.9" y="963.5" width="1.9" height="21.6" fill="#a6a6a6" fill-opacity="1"/>
<text x="989.1" y="981.4" font-size="16.6" fill="#284893" font-weight="normal" text-anchor="start" textLength="20.6" lengthAdjust="spacingAndGlyphs">82</text>
<text x="1042.8" y="981.4" font-size="16.6" fill="#284893" font-weight="normal" text-anchor="start" textLength="20.6" lengthAdjust="spacingAndGlyphs">17</text>
<text x="1079.4" y="981.4" font-size="16.6" fill="#284893" font-weight="normal" text-anchor="start" textLength="9.6" lengthAdjust="spacingAndGlyphs">1</text>
<rect x="865.5" y="998.5" width="119.3" height="21.6" fill="#0a4196"/>
<rect x="1014.0" y="998.5" width="24.7" height="21.6" fill="#f0953a"/>
<rect x="1067.9" y="998.5" width="1.9" height="21.6" fill="#a6a6a6" fill-opacity="1"/>
<text x="989.1" y="1016.4" font-size="16.6" fill="#284893" font-weight="normal" text-anchor="start" textLength="20.6" lengthAdjust="spacingAndGlyphs">82</text>
<text x="1042.8" y="1016.4" font-size="16.6" fill="#284893" font-weight="normal" text-anchor="start" textLength="20.6" lengthAdjust="spacingAndGlyphs">17</text>
<text x="1079.4" y="1016.4" font-size="16.6" fill="#284893" font-weight="normal" text-anchor="start" textLength="9.6" lengthAdjust="spacingAndGlyphs">1</text>
<text x="614.2" y="998.0" font-size="15.5" fill="#6b6f7a" font-weight="normal" text-anchor="start" textLength="194.0" lengthAdjust="spacingAndGlyphs">Επαγγελματική κατάρτιση</text>
<line x1="864.9" y1="1051.3" x2="864.9" y2="1133.1" stroke="#4a4a4a" stroke-width="1.8" stroke-dasharray="2.1 2.2"/>
<circle cx="836.4" cy="1074.2" r="15.5" fill="#0d3a9b"/>
<polygon points="836.40,1061.00 836.89,1062.32 838.30,1062.38 837.20,1063.26 837.58,1064.62 836.40,1063.84 835.22,1064.62 835.60,1063.26 834.50,1062.38 835.91,1062.32" fill="#f3e06a"/>
<polygon points="842.00,1062.50 842.49,1063.82 843.90,1063.88 842.80,1064.76 843.18,1066.12 842.00,1065.34 840.82,1066.12 841.20,1064.76 840.10,1063.88 841.51,1063.82" fill="#f3e06a"/>
<polygon points="846.10,1066.60 846.59,1067.92 848.00,1067.98 846.90,1068.86 847.28,1070.22 846.10,1069.44 844.92,1070.22 845.30,1068.86 844.20,1067.98 845.61,1067.92" fill="#f3e06a"/>
<polygon points="847.60,1072.20 848.09,1073.52 849.50,1073.58 848.40,1074.46 848.78,1075.82 847.60,1075.04 846.42,1075.82 846.80,1074.46 845.70,1073.58 847.11,1073.52" fill="#f3e06a"/>
<polygon points="846.10,1077.80 846.59,1079.12 848.00,1079.18 846.90,1080.06 847.28,1081.42 846.10,1080.64 844.92,1081.42 845.30,1080.06 844.20,1079.18 845.61,1079.12" fill="#f3e06a"/>
<polygon points="842.00,1081.90 842.49,1083.22 843.90,1083.28 842.80,1084.16 843.18,1085.52 842.00,1084.74 840.82,1085.52 841.20,1084.16 840.10,1083.28 841.51,1083.22" fill="#f3e06a"/>
<polygon points="836.40,1083.40 836.89,1084.72 838.30,1084.78 837.20,1085.66 837.58,1087.02 836.40,1086.24 835.22,1087.02 835.60,1085.66 834.50,1084.78 835.91,1084.72" fill="#f3e06a"/>
<polygon points="830.80,1081.90 831.29,1083.22 832.70,1083.28 831.60,1084.16 831.98,1085.52 830.80,1084.74 829.62,1085.52 830.00,1084.16 828.90,1083.28 830.31,1083.22" fill="#f3e06a"/>
<polygon points="826.70,1077.80 827.19,1079.12 828.60,1079.18 827.50,1080.06 827.88,1081.42 826.70,1080.64 825.52,1081.42 825.90,1080.06 824.80,1079.18 826.21,1079.12" fill="#f3e06a"/>
<polygon points="825.20,1072.20 825.69,1073.52 827.10,1073.58 826.00,1074.46 826.38,1075.82 825.20,1075.04 824.02,1075.82 824.40,1074.46 823.30,1073.58 824.71,1073.52" fill="#f3e06a"/>
<polygon points="826.70,1066.60 827.19,1067.92 828.60,1067.98 827.50,1068.86 827.88,1070.22 826.70,1069.44 825.52,1070.22 825.90,1068.86 824.80,1067.98 826.21,1067.92" fill="#f3e06a"/>
<polygon points="830.80,1062.50 831.29,1063.82 832.70,1063.88 831.60,1064.76 831.98,1066.12 830.80,1065.34 829.62,1066.12 830.00,1064.76 828.90,1063.88 830.31,1063.82" fill="#f3e06a"/>
<text x="827.0" y="1115.5" font-size="19.2" fill="#284893" font-weight="normal" text-anchor="start" textLength="21.5" lengthAdjust="spacingAndGlyphs">EL</text>
<rect x="865.5" y="1062.9" width="113.5" height="21.6" fill="#0a4196"/>
<rect x="1008.2" y="1062.9" width="30.6" height="21.6" fill="#f0953a"/>
<rect x="1067.9" y="1062.9" width="1.9" height="21.6" fill="#a6a6a6" fill-opacity="1"/>
<text x="983.3" y="1080.8" font-size="16.6" fill="#284893" font-weight="normal" text-anchor="start" textLength="20.6" lengthAdjust="spacingAndGlyphs">78</text>
<text x="1042.8" y="1080.8" font-size="16.6" fill="#284893" font-weight="normal" text-anchor="start" textLength="20.6" lengthAdjust="spacingAndGlyphs">21</text>
<text x="1079.4" y="1080.8" font-size="16.6" fill="#284893" font-weight="normal" text-anchor="start" textLength="9.6" lengthAdjust="spacingAndGlyphs">1</text>
<rect x="865.5" y="1097.9" width="122.2" height="21.6" fill="#0a4196"/>
<rect x="1016.9" y="1097.9" width="23.3" height="21.6" fill="#f0953a"/>
<rect x="1069.4" y="1097.9" width="1.9" height="21.6" fill="#a6a6a6" fill-opacity="0.35"/>
<text x="992.0" y="1115.8" font-size="16.6" fill="#284893" font-weight="normal" text-anchor="start" textLength="20.6" lengthAdjust="spacingAndGlyphs">84</text>
<text x="1044.3" y="1115.8" font-size="16.6" fill="#284893" font-weight="normal" text-anchor="start" textLength="20.6" lengthAdjust="spacingAndGlyphs">16</text>
<text x="1079.4" y="1115.8" font-size="16.6" fill="#284893" font-weight="normal" text-anchor="start" textLength="9.6" lengthAdjust="spacingAndGlyphs">0</text>
<text x="644.2" y="1078.0" font-size="15.5" fill="#6b6f7a" font-weight="normal" text-anchor="start" textLength="164.0" lengthAdjust="spacingAndGlyphs">Υποδομές μεταφορών</text>
<text x="622.2" y="1097.3" font-size="15.5" fill="#6b6f7a" font-weight="normal" text-anchor="start" textLength="186.0" lengthAdjust="spacingAndGlyphs">(σιδηρόδρομοι, δρόμοι ή</text>
<text x="714.2" y="1116.6" font-size="15.5" fill="#6b6f7a" font-weight="normal" text-anchor="start" textLength="94.0" lengthAdjust="spacingAndGlyphs">αεροδρόμια)</text>
<line x1="864.9" y1="1150.8" x2="864.9" y2="1232.6" stroke="#4a4a4a" stroke-width="1.8" stroke-dasharray="2.1 2.2"/>
<circle cx="836.4" cy="1173.7" r="15.5" fill="#0d3a9b"/>
<polygon points="836.40,1160.50 836.89,1161.82 838.30,1161.88 837.20,1162.76 837.58,1164.12 836.40,1163.34 835.22,1164.12 835.60,1162.76 834.50,1161.88 835.91,1161.82" fill="#f3e06a"/>
<polygon points="842.00,1162.00 842.49,1163.32 843.90,1163.38 842.80,1164.26 843.18,1165.62 842.00,1164.84 840.82,1165.62 841.20,1164.26 840.10,1163.38 841.51,1163.32" fill="#f3e06a"/>
<polygon points="846.10,1166.10 846.59,1167.42 848.00,1167.48 846.90,1168.36 847.28,1169.72 846.10,1168.94 844.92,1169.72 845.30,1168.36 844.20,1167.48 845.61,1167.42" fill="#f3e06a"/>
<polygon points="847.60,1171.70 848.09,1173.02 849.50,1173.08 848.40,1173.96 848.78,1175.32 847.60,1174.54 846.42,1175.32 846.80,1173.96 845.70,1173.08 847.11,1173.02" fill="#f3e06a"/>
<polygon points="846.10,1177.30 846.59,1178.62 848.00,1178.68 846.90,1179.56 847.28,1180.92 846.10,1180.14 844.92,1180.92 845.30,1179.56 844.20,1178.68 845.61,1178.62" fill="#f3e06a"/>
<polygon points="842.00,1181.40 842.49,1182.72 843.90,1182.78 842.80,1183.66 843.18,1185.02 842.00,1184.24 840.82,1185.02 841.20,1183.66 840.10,1182.78 841.51,1182.72" fill="#f3e06a"/>
<polygon points="836.40,1182.90 836.89,1184.22 838.30,1184.28 837.20,1185.16 837.58,1186.52 836.40,1185.74 835.22,1186.52 835.60,1185.16 834.50,1184.28 835.91,1184.22" fill="#f3e06a"/>
<polygon points="830.80,1181.40 831.29,1182.72 832.70,1182.78 831.60,1183.66 831.98,1185.02 830.80,1184.24 829.62,1185.02 830.00,1183.66 828.90,1182.78 830.31,1182.72" fill="#f3e06a"/>
<polygon points="826.70,1177.30 827.19,1178.62 828.60,1178.68 827.50,1179.56 827.88,1180.92 826.70,1180.14 825.52,1180.92 825.90,1179.56 824.80,1178.68 826.21,1178.62" fill="#f3e06a"/>
<polygon points="825.20,1171.70 825.69,1173.02 827.10,1173.08 826.00,1173.96 826.38,1175.32 825.20,1174.54 824.02,1175.32 824.40,1173.96 823.30,1173.08 824.71,1173.02" fill="#f3e06a"/>
<polygon points="826.70,1166.10 827.19,1167.42 828.60,1167.48 827.50,1168.36 827.88,1169.72 826.70,1168.94 825.52,1169.72 825.90,1168.36 824.80,1167.48 826.21,1167.42" fill="#f3e06a"/>
<polygon points="830.80,1162.00 831.29,1163.32 832.70,1163.38 831.60,1164.26 831.98,1165.62 830.80,1164.84 829.62,1165.62 830.00,1164.26 828.90,1163.38 830.31,1163.32" fill="#f3e06a"/>
<text x="827.0" y="1215.0" font-size="19.2" fill="#284893" font-weight="normal" text-anchor="start" textLength="21.5" lengthAdjust="spacingAndGlyphs">EL</text>
<rect x="865.5" y="1162.4" width="91.7" height="21.6" fill="#0a4196"/>
<rect x="986.4" y="1162.4" width="53.8" height="21.6" fill="#f0953a"/>
<rect x="1069.4" y="1162.4" width="1.9" height="21.6" fill="#a6a6a6" fill-opacity="1"/>
<text x="961.5" y="1180.3" font-size="16.6" fill="#284893" font-weight="normal" text-anchor="start" textLength="20.6" lengthAdjust="spacingAndGlyphs">63</text>
<text x="1044.3" y="1180.3" font-size="16.6" fill="#284893" font-weight="normal" text-anchor="start" textLength="20.6" lengthAdjust="spacingAndGlyphs">37</text>
<text x="1079.4" y="1180.3" font-size="16.6" fill="#284893" font-weight="normal" text-anchor="start" textLength="9.6" lengthAdjust="spacingAndGlyphs">1</text>
<rect x="865.5" y="1197.4" width="100.4" height="21.6" fill="#0a4196"/>
<rect x="995.1" y="1197.4" width="45.1" height="21.6" fill="#f0953a"/>
<rect x="1069.4" y="1197.4" width="1.9" height="21.6" fill="#a6a6a6" fill-opacity="0.35"/>
<text x="970.2" y="1215.3" font-size="16.6" fill="#284893" font-weight="normal" text-anchor="start" textLength="20.6" lengthAdjust="spacingAndGlyphs">69</text>
<text x="1044.3" y="1215.3" font-size="16.6" fill="#284893" font-weight="normal" text-anchor="start" textLength="20.6" lengthAdjust="spacingAndGlyphs">31</text>
<text x="1079.4" y="1215.3" font-size="16.6" fill="#284893" font-weight="normal" text-anchor="start" textLength="9.6" lengthAdjust="spacingAndGlyphs">0</text>
<text x="617.2" y="1195.7" font-size="15.5" fill="#6b6f7a" font-weight="normal" text-anchor="start" textLength="191.0" lengthAdjust="spacingAndGlyphs">Τουρισμός και πολιτισμός</text>
<line x1="864.9" y1="1250.3" x2="864.9" y2="1332.1" stroke="#4a4a4a" stroke-width="1.8" stroke-dasharray="2.1 2.2"/>
<circle cx="836.4" cy="1273.2" r="15.5" fill="#0d3a9b"/>
<polygon points="836.40,1260.00 836.89,1261.32 838.30,1261.38 837.20,1262.26 837.58,1263.62 836.40,1262.84 835.22,1263.62 835.60,1262.26 834.50,1261.38 835.91,1261.32" fill="#f3e06a"/>
<polygon points="842.00,1261.50 842.49,1262.82 843.90,1262.88 842.80,1263.76 843.18,1265.12 842.00,1264.34 840.82,1265.12 841.20,1263.76 840.10,1262.88 841.51,1262.82" fill="#f3e06a"/>
<polygon points="846.10,1265.60 846.59,1266.92 848.00,1266.98 846.90,1267.86 847.28,1269.22 846.10,1268.44 844.92,1269.22 845.30,1267.86 844.20,1266.98 845.61,1266.92" fill="#f3e06a"/>
<polygon points="847.60,1271.20 848.09,1272.52 849.50,1272.58 848.40,1273.46 848.78,1274.82 847.60,1274.04 846.42,1274.82 846.80,1273.46 845.70,1272.58 847.11,1272.52" fill="#f3e06a"/>
<polygon points="846.10,1276.80 846.59,1278.12 848.00,1278.18 846.90,1279.06 847.28,1280.42 846.10,1279.64 844.92,1280.42 845.30,1279.06 844.20,1278.18 845.61,1278.12" fill="#f3e06a"/>
<polygon points="842.00,1280.90 842.49,1282.22 843.90,1282.28 842.80,1283.16 843.18,1284.52 842.00,1283.74 840.82,1284.52 841.20,1283.16 840.10,1282.28 841.51,1282.22" fill="#f3e06a"/>
<polygon points="836.40,1282.40 836.89,1283.72 838.30,1283.78 837.20,1284.66 837.58,1286.02 836.40,1285.24 835.22,1286.02 835.60,1284.66 834.50,1283.78 835.91,1283.72" fill="#f3e06a"/>
<polygon points="830.80,1280.90 831.29,1282.22 832.70,1282.28 831.60,1283.16 831.98,1284.52 830.80,1283.74 829.62,1284.52 830.00,1283.16 828.90,1282.28 830.31,1282.22" fill="#f3e06a"/>
<polygon points="826.70,1276.80 827.19,1278.12 828.60,1278.18 827.50,1279.06 827.88,1280.42 826.70,1279.64 825.52,1280.42 825.90,1279.06 824.80,1278.18 826.21,1278.12" fill="#f3e06a"/>
<polygon points="825.20,1271.20 825.69,1272.52 827.10,1272.58 826.00,1273.46 826.38,1274.82 825.20,1274.04 824.02,1274.82 824.40,1273.46 823.30,1272.58 824.71,1272.52" fill="#f3e06a"/>
<polygon points="826.70,1265.60 827.19,1266.92 828.60,1266.98 827.50,1267.86 827.88,1269.22 826.70,1268.44 825.52,1269.22 825.90,1267.86 824.80,1266.98 826.21,1266.92" fill="#f3e06a"/>
<polygon points="830.80,1261.50 831.29,1262.82 832.70,1262.88 831.60,1263.76 831.98,1265.12 830.80,1264.34 829.62,1265.12 830.00,1263.76 828.90,1262.88 830.31,1262.82" fill="#f3e06a"/>
<text x="827.0" y="1314.5" font-size="19.2" fill="#284893" font-weight="normal" text-anchor="start" textLength="21.5" lengthAdjust="spacingAndGlyphs">EL</text>
<rect x="865.5" y="1261.9" width="84.4" height="21.6" fill="#0a4196"/>
<rect x="979.1" y="1261.9" width="56.7" height="21.6" fill="#f0953a"/>
<rect x="1065.0" y="1261.9" width="4.4" height="21.6" fill="#a6a6a6" fill-opacity="1"/>
<text x="954.2" y="1279.8" font-size="16.6" fill="#284893" font-weight="normal" text-anchor="start" textLength="20.6" lengthAdjust="spacingAndGlyphs">58</text>
<text x="1039.9" y="1279.8" font-size="16.6" fill="#284893" font-weight="normal" text-anchor="start" textLength="20.6" lengthAdjust="spacingAndGlyphs">39</text>
<text x="1079.4" y="1279.8" font-size="16.6" fill="#284893" font-weight="normal" text-anchor="start" textLength="9.6" lengthAdjust="spacingAndGlyphs">3</text>
<rect x="865.5" y="1296.9" width="68.4" height="21.6" fill="#0a4196"/>
<rect x="963.1" y="1296.9" width="74.2" height="21.6" fill="#f0953a"/>
<rect x="1066.5" y="1296.9" width="2.9" height="21.6" fill="#a6a6a6" fill-opacity="1"/>
<text x="938.2" y="1314.8" font-size="16.6" fill="#284893" font-weight="normal" text-anchor="start" textLength="20.6" lengthAdjust="spacingAndGlyphs">47</text>
<text x="1041.4" y="1314.8" font-size="16.6" fill="#284893" font-weight="normal" text-anchor="start" textLength="20.6" lengthAdjust="spacingAndGlyphs">51</text>
<text x="1079.4" y="1314.8" font-size="16.6" fill="#284893" font-weight="normal" text-anchor="start" textLength="9.6" lengthAdjust="spacingAndGlyphs">2</text>
<text x="658.2" y="1286.6" font-size="15.5" fill="#6b6f7a" font-weight="normal" text-anchor="start" textLength="150.0" lengthAdjust="spacingAndGlyphs">Υποδοχή και ένταξη</text>
<text x="593.2" y="1305.9" font-size="15.5" fill="#6b6f7a" font-weight="normal" text-anchor="start" textLength="215.0" lengthAdjust="spacingAndGlyphs">μεταναστών και προσφύγων</text>
<line x1="864.9" y1="1349.7" x2="864.9" y2="1431.5" stroke="#4a4a4a" stroke-width="1.8" stroke-dasharray="2.1 2.2"/>
<circle cx="836.4" cy="1372.6" r="15.5" fill="#0d3a9b"/>
<polygon points="836.40,1359.40 836.89,1360.72 838.30,1360.78 837.20,1361.66 837.58,1363.02 836.40,1362.24 835.22,1363.02 835.60,1361.66 834.50,1360.78 835.91,1360.72" fill="#f3e06a"/>
<polygon points="842.00,1360.90 842.49,1362.22 843.90,1362.28 842.80,1363.16 843.18,1364.52 842.00,1363.74 840.82,1364.52 841.20,1363.16 840.10,1362.28 841.51,1362.22" fill="#f3e06a"/>
<polygon points="846.10,1365.00 846.59,1366.32 848.00,1366.38 846.90,1367.26 847.28,1368.62 846.10,1367.84 844.92,1368.62 845.30,1367.26 844.20,1366.38 845.61,1366.32" fill="#f3e06a"/>
<polygon points="847.60,1370.60 848.09,1371.92 849.50,1371.98 848.40,1372.86 848.78,1374.22 847.60,1373.44 846.42,1374.22 846.80,1372.86 845.70,1371.98 847.11,1371.92" fill="#f3e06a"/>
<polygon points="846.10,1376.20 846.59,1377.52 848.00,1377.58 846.90,1378.46 847.28,1379.82 846.10,1379.04 844.92,1379.82 845.30,1378.46 844.20,1377.58 845.61,1377.52" fill="#f3e06a"/>
<polygon points="842.00,1380.30 842.49,1381.62 843.90,1381.68 842.80,1382.56 843.18,1383.92 842.00,1383.14 840.82,1383.92 841.20,1382.56 840.10,1381.68 841.51,1381.62" fill="#f3e06a"/>
<polygon points="836.40,1381.80 836.89,1383.12 838.30,1383.18 837.20,1384.06 837.58,1385.42 836.40,1384.64 835.22,1385.42 835.60,1384.06 834.50,1383.18 835.91,1383.12" fill="#f3e06a"/>
<polygon points="830.80,1380.30 831.29,1381.62 832.70,1381.68 831.60,1382.56 831.98,1383.92 830.80,1383.14 829.62,1383.92 830.00,1382.56 828.90,1381.68 830.31,1381.62" fill="#f3e06a"/>
<polygon points="826.70,1376.20 827.19,1377.52 828.60,1377.58 827.50,1378.46 827.88,1379.82 826.70,1379.04 825.52,1379.82 825.90,1378.46 824.80,1377.58 826.21,1377.52" fill="#f3e06a"/>
<polygon points="825.20,1370.60 825.69,1371.92 827.10,1371.98 826.00,1372.86 826.38,1374.22 825.20,1373.44 824.02,1374.22 824.40,1372.86 823.30,1371.98 824.71,1371.92" fill="#f3e06a"/>
<polygon points="826.70,1365.00 827.19,1366.32 828.60,1366.38 827.50,1367.26 827.88,1368.62 826.70,1367.84 825.52,1368.62 825.90,1367.26 824.80,1366.38 826.21,1366.32" fill="#f3e06a"/>
<polygon points="830.80,1360.90 831.29,1362.22 832.70,1362.28 831.60,1363.16 831.98,1364.52 830.80,1363.74 829.62,1364.52 830.00,1363.16 828.90,1362.28 830.31,1362.22" fill="#f3e06a"/>
<text x="827.0" y="1413.9" font-size="19.2" fill="#284893" font-weight="normal" text-anchor="start" textLength="21.5" lengthAdjust="spacingAndGlyphs">EL</text>
<rect x="865.5" y="1361.3" width="82.9" height="21.6" fill="#0a4196"/>
<rect x="977.6" y="1361.3" width="59.7" height="21.6" fill="#f0953a"/>
<rect x="1066.5" y="1361.3" width="2.9" height="21.6" fill="#a6a6a6" fill-opacity="1"/>
<text x="952.7" y="1379.2" font-size="16.6" fill="#284893" font-weight="normal" text-anchor="start" textLength="20.6" lengthAdjust="spacingAndGlyphs">57</text>
<text x="1041.4" y="1379.2" font-size="16.6" fill="#284893" font-weight="normal" text-anchor="start" textLength="20.6" lengthAdjust="spacingAndGlyphs">41</text>
<text x="1079.4" y="1379.2" font-size="16.6" fill="#284893" font-weight="normal" text-anchor="start" textLength="9.6" lengthAdjust="spacingAndGlyphs">2</text>
<rect x="865.5" y="1396.3" width="69.8" height="21.6" fill="#0a4196"/>
<rect x="964.5" y="1396.3" width="74.2" height="21.6" fill="#f0953a"/>
<rect x="1067.9" y="1396.3" width="1.9" height="21.6" fill="#a6a6a6" fill-opacity="1"/>
<text x="939.6" y="1414.2" font-size="16.6" fill="#284893" font-weight="normal" text-anchor="start" textLength="20.6" lengthAdjust="spacingAndGlyphs">48</text>
<text x="1042.8" y="1414.2" font-size="16.6" fill="#284893" font-weight="normal" text-anchor="start" textLength="20.6" lengthAdjust="spacingAndGlyphs">51</text>
<text x="1079.4" y="1414.2" font-size="16.6" fill="#284893" font-weight="normal" text-anchor="start" textLength="9.6" lengthAdjust="spacingAndGlyphs">1</text>
<text x="606.2" y="1379.9" font-size="15.5" fill="#6b6f7a" font-weight="normal" text-anchor="start" textLength="202.0" lengthAdjust="spacingAndGlyphs">Ευρυζωνική πρόσβαση στο</text>
<text x="736.2" y="1399.2" font-size="15.5" fill="#6b6f7a" font-weight="normal" text-anchor="start" textLength="72.0" lengthAdjust="spacingAndGlyphs">διαδίκτυο</text>
<line x1="768" y1="1455.0" x2="805.5" y2="1455.0" stroke="#0a4196" stroke-width="4.8" stroke-linecap="round"/>
<text x="810.0" y="1460.5" font-size="15.5" fill="#6b6f7a" font-weight="normal" text-anchor="start" textLength="102.0" lengthAdjust="spacingAndGlyphs">Πιο σημαντικά</text>
<line x1="768" y1="1477.9" x2="805.5" y2="1477.9" stroke="#f0953a" stroke-width="4.8" stroke-linecap="round"/>
<text x="810.0" y="1483.4" font-size="15.5" fill="#6b6f7a" font-weight="normal" text-anchor="start" textLength="143.0" lengthAdjust="spacingAndGlyphs">Λιγότερο σημαντικά</text>
<line x1="768" y1="1500.8" x2="805.5" y2="1500.8" stroke="#b3b3b3" stroke-width="4.8" stroke-linecap="round"/>
<text x="810.0" y="1506.3" font-size="15.5" fill="#6b6f7a" font-weight="normal" text-anchor="start" textLength="92.0" lengthAdjust="spacingAndGlyphs">Δεν γνωρίζω</text>
</svg>
<svg width="1122" height="1564" viewBox="0 0 1122 1564" style="position:absolute;left:0;top:0;pointer-events:none" font-family='"Liberation Sans", sans-serif'>
<defs><filter id="emb" x="-5%" y="-5%" width="110%" height="110%" color-interpolation-filters="sRGB"><feOffset in="SourceAlpha" dx="-4" dy="4" result="o"/><feGaussianBlur in="o" stdDeviation="3.2" result="b"/><feComposite in="b" in2="SourceAlpha" operator="out" result="sh"/><feFlood flood-color="#5d6585" flood-opacity="0.25" result="fl"/><feComposite in="fl" in2="sh" operator="in" result="shc"/><feComponentTransfer in="SourceGraphic" result="sg"><feFuncA type="linear" slope="0.54"/></feComponentTransfer><feMerge><feMergeNode in="shc"/><feMergeNode in="sg"/></feMerge></filter><filter id="emb2" x="-5%" y="-5%" width="110%" height="110%" color-interpolation-filters="sRGB"><feOffset in="SourceAlpha" dx="-2.5" dy="2.5" result="o"/><feGaussianBlur in="o" stdDeviation="2.2" result="b"/><feComposite in="b" in2="SourceAlpha" operator="out" result="sh"/><feFlood flood-color="#5d6585" flood-opacity="0.24" result="fl"/><feComposite in="fl" in2="sh" operator="in" result="shc"/><feComponentTransfer in="SourceGraphic" result="sg"><feFuncA type="linear" slope="0.54"/></feComponentTransfer><feMerge><feMergeNode in="shc"/><feMergeNode in="sg"/></feMerge></filter><filter id="wmt" x="-5%" y="-20%" width="110%" height="140%" color-interpolation-filters="sRGB"><feMorphology in="SourceAlpha" operator="dilate" radius="0.8" result="A"/><feMorphology in="SourceAlpha" operator="dilate" radius="1.25" result="B"/><feComposite in="B" in2="A" operator="out" result="ol"/><feFlood flood-color="#777a86" flood-opacity="0.6" result="f1"/><feComposite in="f1" in2="ol" operator="in" result="olc"/><feFlood flood-color="#d6d7de" flood-opacity="0.78" result="f2"/><feComposite in="f2" in2="A" operator="in" result="fc"/><feMerge><feMergeNode in="fc"/><feMergeNode in="olc"/></feMerge></filter><clipPath id="wmclip"><circle cx="508.5" cy="794" r="218.5"/></clipPath><clipPath id="ringclip"><path clip-rule="evenodd" d="M0,0H1122V1564H0Z M248.5,753.4h520v80h-520z" transform="rotate(-9.8 508.5 793.4)"/></clipPath></defs>
<circle cx="508.5" cy="794" r="218" fill="#ffffff" fill-opacity="0.06"/>
<g filter="url(#emb2)"><g clip-path="url(#ringclip)">
<circle cx="508.5" cy="794" r="155" fill="none" stroke="#ffffff" stroke-width="11"/>
<circle cx="508.5" cy="794" r="141.5" fill="none" stroke="#ffffff" stroke-width="6.5"/>
</g></g>
<g filter="url(#emb)">
<circle cx="508.5" cy="794" r="229" fill="none" stroke="#ffffff" stroke-width="22"/>
<g clip-path="url(#wmclip)"><g transform="rotate(-9.8 508.5 793.4)">
<rect x="248.5" y="753.4" width="520" height="6.5" fill="#ffffff"/>
<rect x="248.5" y="826.9" width="520" height="6.5" fill="#ffffff"/>
</g></g>
</g>
<g clip-path="url(#wmclip)"><rect x="248.5" y="759.9" width="520" height="67" fill="#ffffff" fill-opacity="0.07" transform="rotate(-9.8 508.5 793.4)"/></g>
<mask id="wmm" maskUnits="userSpaceOnUse" x="0" y="0" width="1122" height="1564">
<g transform="rotate(-9.8 508.5 794)">
<text x="422.5" y="732" font-size="64" textLength="144" lengthAdjust="spacingAndGlyphs" stroke-linejoin="round" fill="#fff" stroke="#fff" stroke-width="3.7">Λαός</text>
<text x="328.5" y="813" font-size="63" textLength="351" lengthAdjust="spacingAndGlyphs" stroke-linejoin="round" fill="#fff" stroke="#fff" stroke-width="3.9">e-almyros.gr</text>
<text x="410.5" y="882" font-size="30" textLength="192" lengthAdjust="spacingAndGlyphs" stroke-linejoin="round" fill="#fff" stroke="#fff" stroke-width="2.3">της Μαγνησίας</text>
<text x="422.5" y="732" font-size="64" textLength="144" lengthAdjust="spacingAndGlyphs" stroke-linejoin="round" fill="#000" stroke="#000" stroke-width="2.6">Λαός</text>
<text x="328.5" y="813" font-size="63" textLength="351" lengthAdjust="spacingAndGlyphs" stroke-linejoin="round" fill="#000" stroke="#000" stroke-width="2.8">e-almyros.gr</text>
<text x="410.5" y="882" font-size="30" textLength="192" lengthAdjust="spacingAndGlyphs" stroke-linejoin="round" fill="#000" stroke="#000" stroke-width="1.2">της Μαγνησίας</text>
</g></mask>
<rect x="250" y="540" width="520" height="520" fill="#6f7280" fill-opacity="0.7" mask="url(#wmm)"/>
</svg>
</body></html>
